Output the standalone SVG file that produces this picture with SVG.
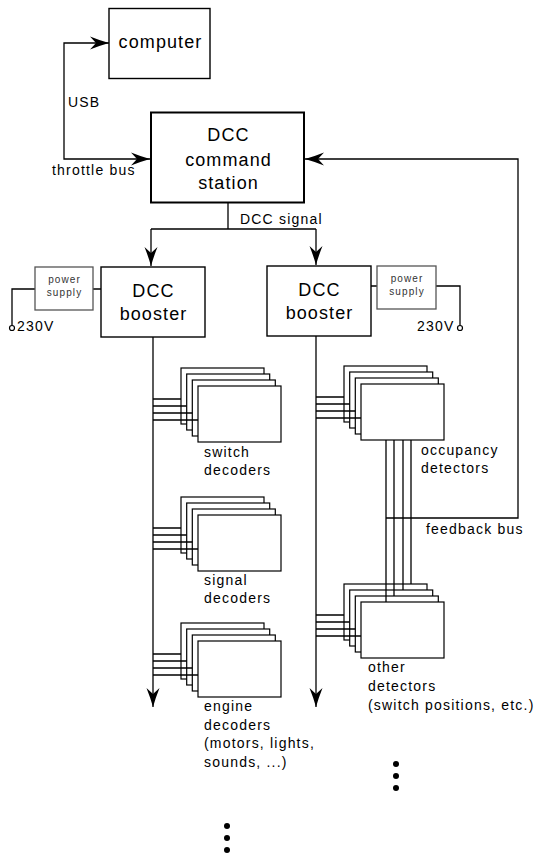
<svg xmlns="http://www.w3.org/2000/svg" xmlns:xlink="http://www.w3.org/1999/xlink" width="536" height="855" viewBox="0 0 536 855">
<style>
.box{fill:#fff;stroke:#000;stroke-width:1.4}
.ps{fill:#fff;stroke:#555;stroke-width:1.3}
.ln{fill:none;stroke:#000;stroke-width:1.3}
.arr{fill:none;stroke:#000;stroke-width:1.3;marker-end:url(#ah)}
.big{font-family:"Liberation Sans",Arial,sans-serif;font-size:18px;letter-spacing:1.1px;text-anchor:middle;fill:#000}
.lbl{font-family:"Liberation Sans",Arial,sans-serif;font-size:14px;letter-spacing:1.2px;fill:#000}
.sm{font-family:"Liberation Sans",Arial,sans-serif;font-size:10px;letter-spacing:1.1px;text-anchor:middle;fill:#333}
.st{fill:#fff;stroke:#000;stroke-width:1.2}
.dot{fill:#000}
</style>
<defs>
<marker id="ah" markerUnits="userSpaceOnUse" markerWidth="22" markerHeight="16" viewBox="-20 -8 22 16" refX="0" refY="0" orient="auto">
<path d="M0,0 Q-9,-2.5 -19,-6.5 L-13,0 L-19,6.5 Q-9,2.5 0,0 Z" fill="#000"/>
</marker>
<g id="stack">
<rect class="st" x="0" y="0" width="83" height="56"/>
<rect class="st" x="5.7" y="6" width="83" height="56"/>
<rect class="st" x="11.3" y="12" width="83" height="56"/>
<rect class="st" x="17" y="18" width="83" height="56"/>
<path class="ln" d="M-28,31 H0 M-28,38 H5.7 M-28,45 H11.3 M-28,52 H17"/>
</g>
</defs>

<g id="connectors">
<path class="arr" d="M64,101 V43 H109"/>
<path class="arr" d="M64,101 V159 H150"/>
<path class="arr" d="M386,518 H518 V159 H305"/>
<path class="ln" d="M228,203 V229 M151,229 H316"/>
<path class="arr" d="M151,229 V266"/>
<path class="arr" d="M316,229 V265"/>
<path class="arr" d="M153,337 V707"/>
<path class="arr" d="M316,336 V707"/>
<path class="ln" d="M101,289 H93 M35,289 H12 V325.5"/>
<circle cx="12" cy="328" r="2.5" fill="#fff" stroke="#000" stroke-width="1.2"/>
<path class="ln" d="M371,286 H377 M436,286 H460 V325.5"/>
<circle cx="460" cy="328" r="2.5" fill="#fff" stroke="#000" stroke-width="1.2"/>
<text class="lbl" x="68" y="107">USB</text>
<text class="lbl" x="52" y="175">throttle bus</text>
<text class="lbl" x="240" y="224">DCC signal</text>
<text class="lbl" x="426" y="534">feedback bus</text>
<text class="lbl" x="17" y="331">230V</text>
<text class="lbl" x="454.5" y="331" text-anchor="end">230V</text>
</g>

<g id="computer">
<rect class="box" x="109" y="8.5" width="101" height="70" stroke-width="1.5"/>
<text class="big" x="160.5" y="48">computer</text>
</g>

<g id="command-station">
<rect class="box" x="151" y="112.5" width="153" height="90" style="stroke-width:2"/>
<text class="big" x="228.5" y="141">DCC</text>
<text class="big" x="228.5" y="166">command</text>
<text class="big" x="228.5" y="189">station</text>
</g>

<g id="booster-left">
<rect class="box" x="101" y="267" width="104" height="70"/>
<text class="big" x="153.5" y="297">DCC</text>
<text class="big" x="153.5" y="320">booster</text>
</g>

<g id="booster-right">
<rect class="box" x="267" y="266" width="104" height="70"/>
<text class="big" x="319.5" y="296">DCC</text>
<text class="big" x="319.5" y="319">booster</text>
</g>

<g id="power-supply-left">
<rect class="ps" x="35" y="267" width="58" height="43"/>
<text class="sm" x="64.5" y="283">power</text>
<text class="sm" x="64.5" y="296">supply</text>
</g>

<g id="power-supply-right">
<rect class="ps" x="377" y="266" width="59" height="43"/>
<text class="sm" x="407" y="282">power</text>
<text class="sm" x="407" y="295">supply</text>
</g>

<g id="switch-decoders">
<use xlink:href="#stack" href="#stack" x="181" y="368"/>
<text class="lbl" x="204" y="457">switch</text>
<text class="lbl" x="204" y="475">decoders</text>
</g>

<g id="signal-decoders">
<use xlink:href="#stack" href="#stack" x="181" y="497"/>
<text class="lbl" x="204" y="585">signal</text>
<text class="lbl" x="204" y="603">decoders</text>
</g>

<g id="engine-decoders">
<use xlink:href="#stack" href="#stack" x="181" y="623"/>
<text class="lbl" x="204" y="711">engine</text>
<text class="lbl" x="204" y="730">decoders</text>
<text class="lbl" x="204" y="748">(motors, lights,</text>
<text class="lbl" x="204" y="767">sounds, ...)</text>
</g>

<g id="occupancy-detectors">
<use xlink:href="#stack" href="#stack" x="344" y="366"/>
<text class="lbl" x="421" y="455">occupancy</text>
<text class="lbl" x="421" y="473">detectors</text>
</g>

<g id="other-detectors">
<use xlink:href="#stack" href="#stack" x="344" y="584"/>
<text class="lbl" x="368" y="672">other</text>
<text class="lbl" x="368" y="691">detectors</text>
<text class="lbl" x="368" y="710">(switch positions, etc.)</text>
</g>

<g id="detector-bus">
<path class="ln" d="M386,440 V602 M394,440 V596 M403,440 V590 M411,440 V584"/>
</g>

<g id="more-left">
<circle class="dot" cx="227" cy="826" r="3"/>
<circle class="dot" cx="227" cy="838" r="3"/>
<circle class="dot" cx="227" cy="850" r="3"/>
</g>
<g id="more-right">
<circle class="dot" cx="396" cy="764" r="3"/>
<circle class="dot" cx="396" cy="776" r="3"/>
<circle class="dot" cx="396" cy="788" r="3"/>
</g>
</svg>
